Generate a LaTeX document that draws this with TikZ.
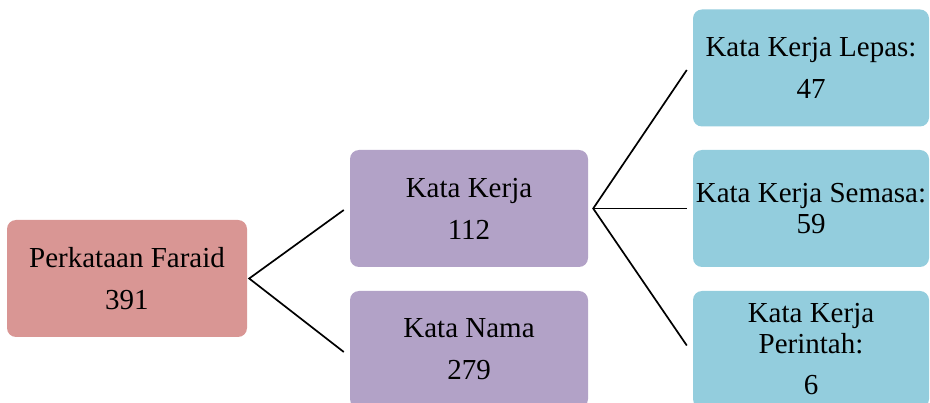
\documentclass[tikz,border=0pt]{standalone}
\usepackage{fontspec}
\setmainfont{Liberation Serif}
\definecolor{rootc}{RGB}{217,150,148}
\definecolor{verbc}{RGB}{178,162,199}
\definecolor{leafc}{RGB}{147,205,221}
\begin{document}
\begin{tikzpicture}[x=1pt,y=-1pt,
  box/.style={rectangle, rounded corners=9pt, inner sep=0pt, align=center,
    font=\fontsize{29}{42}\selectfont, text=black, minimum height=117pt},
  rootbox/.style={box, fill=rootc, minimum width=240pt},
  verbbox/.style={box, fill=verbc, minimum width=238pt},
  leafbox/.style={box, fill=leafc, minimum width=236pt},
  link/.style={draw=black, line width=1.7pt}]
\useasboundingbox (0,0) rectangle (930,403);
\clip (0,0) rectangle (930,403);
\node[rootbox] (root) at (127,278.5) {Perkataan Faraid\\391};
\node[verbbox] (kk) at (469,208.5) {Kata Kerja\\112};
\node[verbbox] (kn) at (469,349.5) {Kata Nama\\279};
\node[leafbox] (l1) at (811,68) {Kata Kerja Lepas:\\47};
\node[leafbox, font=\fontsize{29}{31}\selectfont] (l2) at (811,208.5) {Kata Kerja Semasa:\\59};
\node[leafbox, font=\fontsize{29}{31}\selectfont] (l3) at (811,349.5) {Kata Kerja\\Perintah:\\[10pt]6};
\coordinate (f1) at ([xshift=2pt]root.east);
\coordinate (e1) at ([xshift=-6pt,yshift=-1.5pt]kk.west);
\coordinate (e2) at ([xshift=-6pt,yshift=-2.5pt]kn.west);
\coordinate (f2) at ([xshift=5pt]kk.east);
\coordinate (g1) at ([xshift=-6pt,yshift=-2pt]l1.west);
\coordinate (g2) at ([xshift=-6pt]l2.west);
\coordinate (g3) at ([xshift=-6pt,yshift=4pt]l3.west);
\draw[link] (e1) -- (f1) -- (e2);
\draw[link] (g1) -- (f2) -- (g3);
\draw[link] (f2) -- (g2);
\end{tikzpicture}
\end{document}
